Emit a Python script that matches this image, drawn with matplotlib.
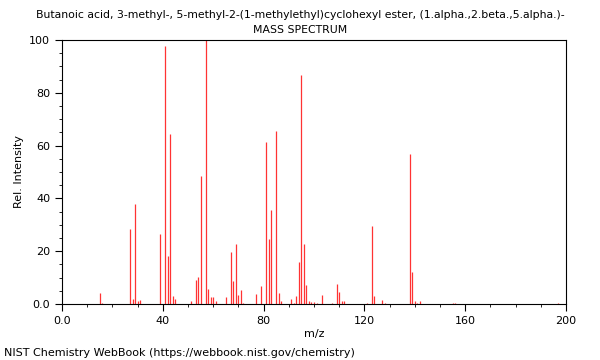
import matplotlib
matplotlib.use("Agg")
import matplotlib.pyplot as plt
from matplotlib.ticker import MultipleLocator, FuncFormatter

title = "Butanoic acid, 3-methyl-, 5-methyl-2-(1-methylethyl)cyclohexyl ester, (1.alpha.,2.beta.,5.alpha.)-"

mz = [15, 16, 27, 28, 29, 30, 31, 39, 41, 42, 43, 44, 45, 51, 53, 54, 55, 57, 58,
      59, 60, 61, 65, 67, 68, 69, 70, 71, 72, 77, 79, 81, 82, 83, 85, 86, 87,
      91, 92, 93, 94, 95, 96, 97, 98, 99, 100, 101, 103, 107, 109, 110, 111,
      112, 121, 123, 124, 127, 128, 138, 139, 140, 141, 142, 155, 156, 197]
intensity = [4.2, 0.5, 28.4, 2.0, 37.9, 1.0, 1.5, 26.5, 97.6, 18.2, 64.4, 3.2, 2.0,
             1.0, 9.1, 10.2, 48.5, 100, 5.6, 2.8, 2.8, 1.0, 2.8, 19.7, 8.8, 22.7,
             3.4, 5.3, 0.5, 3.8, 7.0, 61.3, 24.6, 35.6, 65.5, 4.2, 1.0, 2.0, 0.5,
             3.2, 16.0, 86.6, 22.7, 7.2, 1.0, 0.8, 0.6, 0.5, 3.4, 0.5, 7.6, 4.5,
             1.0, 1.0, 0.5, 29.5, 3.0, 1.5, 0.5, 56.8, 12.1, 1.0, 0.5, 1.0, 0.5,
             0.5, 0.5]

fig = plt.figure(figsize=(6, 3.6), dpi=100)
ax = fig.add_axes([62 / 600, 1 - 304 / 360, 504 / 600, 264 / 360])

ax.vlines(mz, 0, intensity, colors="#ff3333", linewidth=0.9)

ax.set_xlim(0, 200)
ax.set_ylim(0, 100)
ax.xaxis.set_major_locator(MultipleLocator(40))
ax.xaxis.set_minor_locator(MultipleLocator(10))
ax.yaxis.set_major_locator(MultipleLocator(20))
ax.yaxis.set_minor_locator(MultipleLocator(5))

fmt = FuncFormatter(lambda v, p: "0.0" if v == 0 else "%d" % v)
ax.xaxis.set_major_formatter(fmt)
ax.yaxis.set_major_formatter(fmt)
ax.tick_params(which="major", length=5, labelsize=8)
ax.tick_params(which="minor", length=2.5)

ax.set_xlabel("m/z", fontsize=8, labelpad=2)
ax.set_ylabel("Rel. Intensity", fontsize=8)

fig.text(0.5, 1 - 15 / 360, title, ha="center", va="center", fontsize=7.8)
fig.text(0.5, 1 - 30 / 360, "MASS SPECTRUM", ha="center", va="center", fontsize=7.8)
fig.text(4 / 600, 1 - 353 / 360, "NIST Chemistry WebBook (https://webbook.nist.gov/chemistry)",
         ha="left", va="center", fontsize=8)

fig.savefig("out.png", dpi=100)
